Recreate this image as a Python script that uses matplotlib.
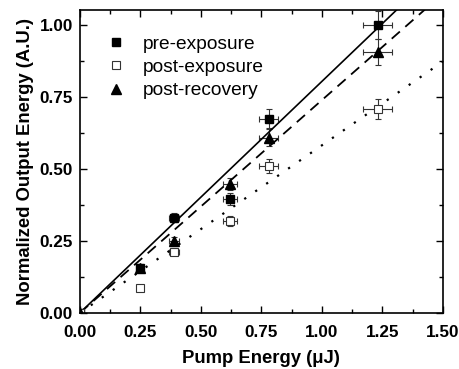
import numpy as np
import matplotlib
matplotlib.use('Agg')
import matplotlib.pyplot as plt
from matplotlib.ticker import MultipleLocator
from matplotlib.lines import Line2D

plt.rcParams['font.family'] = ['Liberation Sans', 'DejaVu Sans']

# pump energy (uJ)
pump = [0.0, 0.25, 0.39, 0.62, 0.78, 1.23]
pump_err = [0.0, 0.012, 0.02, 0.03, 0.04, 0.06]

pre = [0.0, 0.157, 0.331, 0.395, 0.674, 1.0]
pre_err = [0.0, 0.012, 0.016, 0.02, 0.033, 0.05]
post = [0.0, 0.086, 0.213, 0.319, 0.511, 0.707]
post_err = [0.0, 0.006, 0.011, 0.016, 0.025, 0.035]
recov = [0.0, 0.157, 0.25, 0.448, 0.609, 0.905]
recov_err = [0.0, 0.01, 0.013, 0.022, 0.03, 0.045]

# slopes of linear fits
slope_pre = 0.804
slope_post = 0.582
slope_recov = 0.739

fig = plt.figure(figsize=(4.59, 3.69), dpi=100)
ax = fig.add_axes([0.174, 0.152, 0.791, 0.821])

ekw = dict(ecolor='#333333', elinewidth=0.8, capsize=2.5, capthick=0.8, linestyle='none')
ax.errorbar(pump, pre, xerr=pump_err, yerr=pre_err, marker='s', ms=6,
            mfc='black', mec='black', **ekw)
ax.errorbar(pump, post, xerr=pump_err, yerr=post_err, marker='s', ms=6,
            mfc='white', mec='#333333', mew=0.8, **ekw)
ax.errorbar(pump, recov, xerr=pump_err, yerr=recov_err, marker='^', ms=7,
            mfc='black', mec='black', **ekw)

xx = np.array([0.0, 1.5])
ax.plot(xx, slope_pre * xx, color='black', lw=1.2, ls='-')
ax.plot(xx, slope_recov * xx, color='black', lw=1.3, ls=(0, (6, 4)))
ax.plot(xx, slope_post * xx, color='black', lw=1.6, ls=(0, (1, 5)))

ax.set_xlim(0, 1.5)
ax.set_ylim(0, 1.052)
ax.xaxis.set_major_locator(MultipleLocator(0.25))
ax.xaxis.set_minor_locator(MultipleLocator(0.125))
ax.yaxis.set_major_locator(MultipleLocator(0.25))
ax.yaxis.set_minor_locator(MultipleLocator(0.125))
ax.xaxis.set_major_formatter(plt.FormatStrFormatter('%.2f'))
ax.yaxis.set_major_formatter(plt.FormatStrFormatter('%.2f'))
ax.tick_params(which='both', direction='in', top=True, right=True, width=1)
ax.tick_params(which='major', length=5, labelsize=12.3)
ax.tick_params(axis='x', which='major', pad=9)
ax.tick_params(axis='y', which='major', pad=5)
ax.tick_params(which='minor', length=3)
for lab in ax.get_xticklabels() + ax.get_yticklabels():
    lab.set_fontweight('bold')
for s in ax.spines.values():
    s.set_linewidth(1.2)

ax.set_xlabel('Pump Energy (\u03bcJ)', fontsize=13.3, fontweight='bold', labelpad=7)
ax.set_ylabel('Normalized Output Energy (A.U.)', fontsize=13.3, fontweight='bold', labelpad=4)

handles = [
    Line2D([], [], ls='none', marker='s', ms=6, mfc='black', mec='black'),
    Line2D([], [], ls='none', marker='s', ms=6, mfc='white', mec='#333333', mew=0.8),
    Line2D([], [], ls='none', marker='^', ms=7, mfc='black', mec='black'),
]
ax.legend(handles, ['pre-exposure', 'post-exposure', 'post-recovery'],
          loc='upper left', bbox_to_anchor=(0.03, 0.96), frameon=False,
          fontsize=13.8, handletextpad=0.8, labelspacing=0.3, handlelength=1.2,
          borderpad=0.2)

fig.savefig('out.png', dpi=100)
